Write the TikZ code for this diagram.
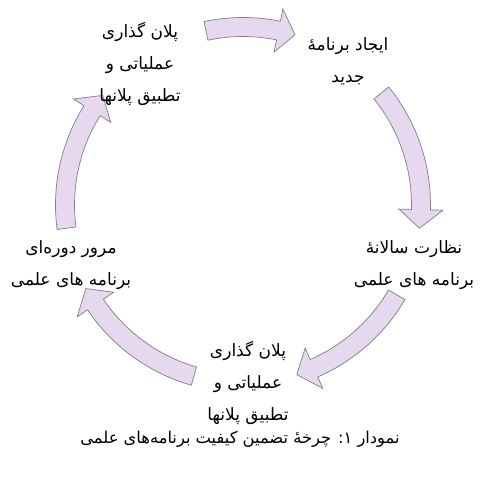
\documentclass[tikz,border=0pt]{standalone}
\usepackage{fontspec}
\newfontfamily\arabicfont[Script=Arabic]{DejaVu Sans}
\TeXXeTstate=1
\newcommand\fa[1]{\beginR#1\endR}
\definecolor{arrowfill}{RGB}{230,216,238}
\definecolor{arrowline}{RGB}{128,128,128}
% curved block arrow on the cycle: #1 tail angle, #2 head base angle, #3 tip angle
\newcommand\cyclearrow[3]{%
  \path[blockarrow] (#1:\Ro) arc[start angle=#1, end angle=#2, radius=\Ro]
    -- (#2:\Rho) -- (#3:\Rm) -- (#2:\Rhi) -- (#2:\Ri)
    arc[start angle=#2, end angle=#1, radius=\Ri] -- cycle;}
\begin{document}
\begin{tikzpicture}[x=1pt,y=1pt,
  blockarrow/.style={fill=arrowfill, draw=arrowline, line width=0.7pt, line join=miter},
  steplabel/.style={align=center, inner sep=0pt, font=\arabicfont\fontsize{17}{32}\selectfont},
  captionlabel/.style={inner sep=0pt, font=\arabicfont\fontsize{16.3}{18}\selectfont}]
\useasboundingbox (0,0) rectangle (482,477);
\fill[white] (0,0) rectangle (482,477);
% ring of arrows
\begin{scope}[shift={(243,272)}]
  \def\Rm{178}\def\Ro{187.5}\def\Ri{168.5}\def\Rho{200}\def\Rhi{156}
  \cyclearrow{102}{78.5}{73}
  \cyclearrow{39}{-1.5}{-7.5}
  \cyclearrow{-30.3}{-66.5}{-72.4}
  \cyclearrow{-106}{-146}{-152}
  \cyclearrow{187.5}{148}{142}
\end{scope}
% stages of the cycle
\node[steplabel] (plan) at (140,413) {\fa{پلان گذاری}\\\fa{عملیاتی و}\\\fa{تطبیق پلانها}};
\node[steplabel] (create) at (348,416) {\fa{ایجاد برنامهٔ}\\\fa{جدید}};
\node[steplabel] (monitor) at (414,212) {\fa{نظارت سالانهٔ}\\\fa{برنامه های علمی}};
\node[steplabel] (implement) at (248,94) {\fa{پلان گذاری}\\\fa{عملیاتی و}\\\fa{تطبیق پلانها}};
\node[steplabel] (review) at (71,212) {\fa{مرور دوره‌ای}\\\fa{برنامه های علمی}};
% figure caption
\node[captionlabel] (caption) at (240,38) {\fa{نمودار ۱: چرخهٔ تضمین کیفیت برنامه‌های علمی}};
\end{tikzpicture}
\end{document}
